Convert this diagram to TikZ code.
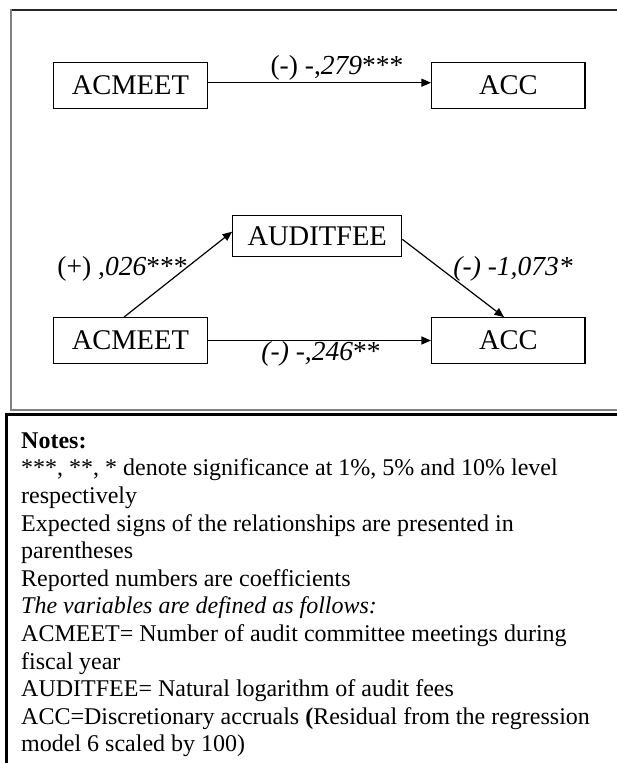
\documentclass[tikz,border=0pt]{standalone}
\usepackage{fontspec}
\setmainfont{Liberation Serif}
\usetikzlibrary{arrows.meta}
\begin{document}
\begin{tikzpicture}[x=1pt,y=-1pt,
  varbox/.style={draw, line width=1.2pt, inner sep=0pt, minimum height=45.6pt,
    font=\fontsize{28.5}{34}\selectfont},
  link/.style={line width=1.2pt, -{Triangle[length=9.5pt,width=8pt]}},
  coef/.style={inner sep=0pt, anchor=base, font=\fontsize{27.5}{33}\selectfont},
  notetext/.style={inner sep=0pt, anchor=base west, font=\fontsize{24}{27.6}\selectfont}]
\useasboundingbox (0,0) rectangle (617,763);

% outer frame of the model (open on the right)
\draw[black!85, line width=2pt] (620,9.5) -- (10,9.5);
\draw[gray, line width=2pt] (11,8.5) -- (11,410.5);
\draw[gray, line width=2pt] (10,409.5) -- (620,409.5);

% notes frame (open on the right and bottom)
\draw[black, line width=2.5pt] (620,414.5) -- (5.25,414.5);
\draw[black, line width=2.5pt] (6.5,413.25) -- (6.5,770);

% direct effect
\node[varbox, minimum width=154.2pt] (acmeetA) at (130.4,85.5) {ACMEET};
\node[varbox, minimum width=153.5pt] (accA) at (508.3,85.5) {ACC};
\draw[link] ([yshift=2.8pt]acmeetA.east) -- ([yshift=2.8pt]accA.west);
\node[coef] (c1) at (337,74) {(-) -,\textit{279}***};

% mediation model
\node[varbox, minimum width=169pt, minimum height=41pt] (fee) at (317.2,236.2) {AUDITFEE};
\node[varbox, minimum width=154.2pt] (acmeetB) at (130.4,340.5) {ACMEET};
\node[varbox, minimum width=153.5pt] (accB) at (508.3,340.5) {ACC};
\draw[link] (acmeetB.east) -- (accB.west);
\draw[link] ([xshift=-6.4pt]acmeetB.north) -- ([yshift=4.5pt]fee.west);
\draw[link] ([yshift=-3.1pt]fee.east) -- ([xshift=-4.3pt]accB.north);
\node[coef] (c2) at (122.5,275) {(+) \textit{,026}***};
\node[coef] (c3) at (513,275) {\textit{(-) -1,073*}};
\node[coef] (c4) at (321,360) {\textit{(-) -,246}**};

% notes
\node[notetext] (n1) at (21,448.3) {\textbf{Notes:}};
\node[notetext] (n2) at (21,475.9) {***, **, * denote significance at 1\%, 5\% and 10\% level};
\node[notetext] (n3) at (21,503.5) {respectively};
\node[notetext] (n4) at (21,531.1) {Expected signs of the relationships are presented in};
\node[notetext] (n5) at (21,558.7) {parentheses};
\node[notetext] (n6) at (21,586.3) {Reported numbers are coefficients};
\node[notetext] (n7) at (21,613.9) {\textit{The variables are defined as follows:}};
\node[notetext] (n8) at (21,641.5) {ACMEET= Number of audit committee meetings during};
\node[notetext] (n9) at (21,669.1) {fiscal year};
\node[notetext] (n10) at (21,696.7) {AUDITFEE= Natural logarithm of audit fees};
\node[notetext] (n11) at (21,724.3) {ACC=Discretionary accruals {\bfseries(}Residual from the regression};
\node[notetext] (n12) at (21,751.9) {model 6 scaled by 100)};
\end{tikzpicture}
\end{document}
